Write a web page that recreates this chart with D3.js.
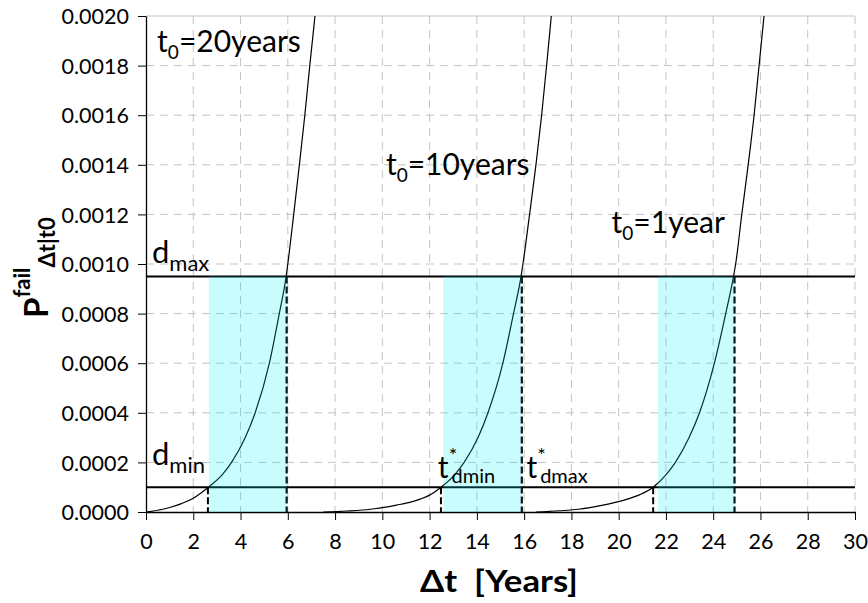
<!DOCTYPE html>
<html>
<head>
<meta charset="utf-8">
<script src="https://cdn.jsdelivr.net/npm/d3@7"></script>
<style>
  body { margin: 0; background: #fff; }
  svg { display: block; font-family: Lato, "Open Sans", sans-serif; }
</style>
</head>
<body>
<div class="js-vis"></div>
<script>
// tick labels
const xTicks = [0, 2, 4, 6, 8, 10, 12, 14, 16, 18, 20, 22, 24, 26, 28, 30]
const yTicks = [0, 0.0002, 0.0004, 0.0006, 0.0008, 0.0010, 0.0012, 0.0014, 0.0016, 0.0018, 0.0020]

// failure probability curves: [dt, P]
const curve20 = [[0, 0], [0.5, 0.000007], [1.0, 0.000018], [1.5, 0.000034], [2.0, 0.000055], [2.3, 0.000075],
  [2.64, 0.0001], [3.22, 0.00015], [3.62, 0.0002], [4.2, 0.0003], [4.62, 0.0004], [5.22, 0.0006],
  [5.64, 0.0008], [5.93, 0.00095], [6.0, 0.001], [6.25, 0.0012], [6.49, 0.0014], [6.72, 0.0016],
  [6.93, 0.0018], [7.15, 0.002], [7.3, 0.00215]]
const curve10 = [[7.5, 0], [8.5, 0.000004], [9.5, 0.000011], [10.6, 0.000028], [11.2, 0.00004], [11.6, 0.000052],
  [12.0, 0.000068], [12.48, 0.0001], [13.06, 0.00015], [13.46, 0.0002], [14.05, 0.0003], [14.47, 0.0004],
  [15.1, 0.0006], [15.55, 0.0008], [15.87, 0.00095], [15.95, 0.001], [16.23, 0.0012], [16.5, 0.0014],
  [16.74, 0.0016], [16.95, 0.0018], [17.15, 0.002], [17.3, 0.00215]]
const curve1 = [[16.5, 0], [17.5, 0.000005], [18.3, 0.000011], [18.9, 0.00002], [19.6, 0.000033], [20.3, 0.00005],
  [20.9, 0.00007], [21.46, 0.0001], [22.0, 0.00015], [22.4, 0.0002], [22.98, 0.0003], [23.42, 0.0004],
  [24.05, 0.0006], [24.53, 0.0008], [24.86, 0.00095], [24.95, 0.001], [25.21, 0.0012], [25.48, 0.0014],
  [25.73, 0.0016], [25.94, 0.0018], [26.15, 0.002], [26.3, 0.00215]]

// thresholds and crossing times
const dmin = 0.0001,
    dmax = 0.00095
const tStarMin = [2.62, 12.48, 21.46]
const tStarMax = [5.95, 15.9, 24.9]
const shadeStart = [2.66, 12.58, 21.66]

const ewidth = 868,
    eheight = 603

const margin = { top: 16, right: 13, bottom: 91, left: 146 },
    width = ewidth - margin.left - margin.right,
    height = eheight - margin.top - margin.bottom

const svg = d3.select(".js-vis").append("svg")
    .attr("width", ewidth)
    .attr("height", eheight)

const vis = svg.append("g")
    .attr("transform", "translate(" + margin.left + "," + margin.top + ")")

const x = d3.scaleLinear()
  .domain([0, 30])
  .range([0, width])

const y = d3.scaleLinear()
  .domain([0, 0.002])
  .range([height, 0])

vis.append("clipPath")
    .attr("id", "plot-clip")
  .append("rect")
    .attr("width", width)
    .attr("height", height)

// grid
vis.selectAll(".vgrid")
  .data(xTicks.filter(d => d > 0))
.enter().append("line")
  .attr("class", "vgrid")
  .attr("x1", d => x(d)).attr("x2", d => x(d))
  .attr("y1", 0).attr("y2", height)
  .attr("stroke", "#c4c4c4")
  .attr("stroke-dasharray", "8,6")

vis.selectAll(".hgrid")
  .data(yTicks.filter(d => d > 0))
.enter().append("line")
  .attr("class", "hgrid")
  .attr("x1", 0).attr("x2", width)
  .attr("y1", d => y(d)).attr("y2", d => y(d))
  .attr("stroke", "#c4c4c4")
  .attr("stroke-dasharray", d => d === 0.002 ? null : "8,6")

// axes
const xax = d3.axisBottom(x).tickValues(xTicks).tickSize(8).tickSizeOuter(0).tickPadding(14),
    yax = d3.axisLeft(y).tickValues(yTicks).tickSize(8).tickSizeOuter(0).tickPadding(9)
      .tickFormat(d3.format(".4f"))

const gx = vis.append("g")
  .attr("transform", "translate(0," + height + ")")
  .call(xax)
const gy = vis.append("g")
  .call(yax)

;[gx, gy].forEach(g => {
  g.selectAll("text").attr("font-size", 21.5).attr("fill", "#000").attr("font-family", "Lato, sans-serif")
  g.selectAll("line").attr("stroke", "#000")
  g.select(".domain").attr("stroke", "#000").attr("stroke-width", 1.3)
})
gy.selectAll("text").attr("dy", "0.36em")
gx.selectAll("text").attr("dy", "0.72em")

// threshold lines
vis.selectAll(".dline")
  .data([dmin, dmax])
.enter().append("line")
  .attr("class", "dline")
  .attr("x1", 0).attr("x2", width)
  .attr("y1", d => y(d)).attr("y2", d => y(d))
  .attr("stroke", "#000")
  .attr("stroke-width", 2)

// dashed drop lines
vis.selectAll(".dropmin")
  .data(tStarMin)
.enter().append("line")
  .attr("x1", d => x(d)).attr("x2", d => x(d))
  .attr("y1", y(dmin)).attr("y2", y(0))
  .attr("stroke", "#000")
  .attr("stroke-width", 2)
  .attr("stroke-dasharray", "7,3")

vis.selectAll(".dropmax")
  .data(tStarMax)
.enter().append("line")
  .attr("x1", d => x(d)).attr("x2", d => x(d))
  .attr("y1", y(dmax)).attr("y2", y(0))
  .attr("stroke", "#000")
  .attr("stroke-width", 2.2)
  .attr("stroke-dasharray", "7,3")

// curves
const line = d3.line()
  .x(d => x(d[0]))
  .y(d => y(d[1]))
  .curve(d3.curveMonotoneX)

vis.append("g")
    .attr("clip-path", "url(#plot-clip)")
  .selectAll(".curve")
  .data([curve20, curve10, curve1])
.enter().append("path")
  .attr("class", "curve")
  .attr("d", line)
  .attr("fill", "none")
  .attr("stroke", "#000")
  .attr("stroke-width", 1.2)

// shaded intervals, drawn on top
vis.selectAll(".shade")
  .data(d3.zip(shadeStart, tStarMax))
.enter().append("rect")
  .attr("class", "shade")
  .attr("x", d => x(d[0]))
  .attr("width", d => x(d[1]) - x(d[0]))
  .attr("y", y(dmax))
  .attr("height", y(0) - y(dmax))
  .attr("fill", "#00f0f0")
  .attr("fill-opacity", 0.21)

// annotations
function tLabel(xv, yv, num) {
  const t = vis.append("text")
    .attr("x", x(xv)).attr("y", y(yv))
    .attr("font-size", 30)
  t.append("tspan").text("t")
  t.append("tspan").text("0").attr("font-size", 19).attr("dy", 7)
  t.append("tspan").text(num).attr("dy", -7)
}
tLabel(0.47, 0.001855, "=20years")
tLabel(10.15, 0.00136, "=10years")
tLabel(19.7, 0.001125, "=1year")

function dLabel(xv, yv, sub) {
  const t = vis.append("text")
    .attr("x", x(xv)).attr("y", y(yv))
    .attr("font-size", 31)
  t.append("tspan").text("d")
  t.append("tspan").text(sub).attr("font-size", 22).attr("dy", 8)
}
dLabel(0.25, 0.001004, "max")
dLabel(0.25, 0.00019, "min")

function starLabel(xv, yv, sub) {
  const t = vis.append("text")
    .attr("x", x(xv)).attr("y", y(yv))
    .attr("font-size", 30)
  t.append("tspan").text("t")
  t.append("tspan").text("*").attr("font-size", 20).attr("dy", -16)
  t.append("tspan").text(sub).attr("font-size", 20).attr("dy", 21).attr("dx", -5)
}
starLabel(12.35, 0.000137, "dmin")
starLabel(16.1, 0.000137, "dmax")

// axis titles
const ytitle = svg.append("text")
  .attr("transform", "translate(48,318) rotate(-90)")
  .attr("font-weight", "bold")
  .attr("font-size", 33)
ytitle.append("tspan").text("P")
ytitle.append("tspan").text("fail").attr("font-size", 22).attr("dy", -18)
ytitle.append("tspan").text("\u0394t|t0").attr("font-size", 22).attr("dy", 25)

svg.append("text")
  .attr("x", 420).attr("y", 592)
  .attr("font-weight", "bold")
  .attr("font-size", 31)
  .attr("xml:space", "preserve")
  .attr("textLength", 158)
  .attr("lengthAdjust", "spacingAndGlyphs")
  .text("\u0394t  [Years]")
</script>
</body>
</html>
